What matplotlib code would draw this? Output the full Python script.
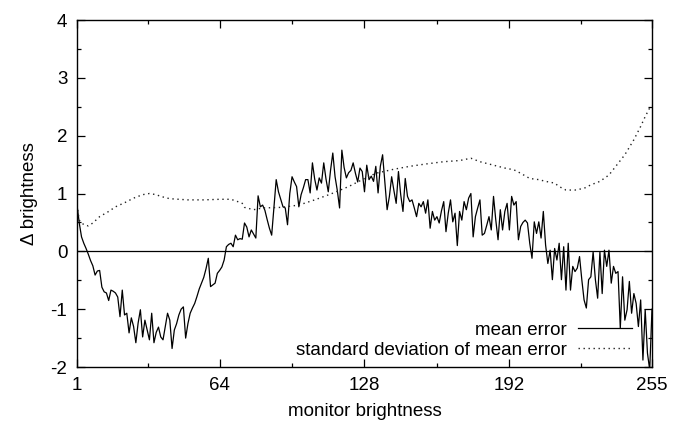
import numpy as np
import matplotlib.pyplot as plt

# monitor brightness levels 1..255
brightness = np.arange(1, 256)

# mean error per brightness level
mean_error = [
    0.80, 0.49, 0.25, 0.14, 0.05, -0.05, -0.16, -0.25, -0.41, -0.34,
    -0.33, -0.62, -0.70, -0.72, -0.85, -0.67, -0.69, -0.72, -0.79, -1.13,
    -0.67, -1.10, -1.07, -1.41, -1.15, -1.30, -1.58, -1.24, -1.01, -1.48,
    -1.19, -1.36, -1.53, -1.07, -1.58, -1.40, -1.31, -1.48, -1.53, -1.30,
    -1.07, -1.19, -1.68, -1.36, -1.25, -1.10, -1.00, -0.96, -1.50, -1.25,
    -1.07, -0.98, -0.90, -0.78, -0.65, -0.55, -0.45, -0.30, -0.12, -0.61,
    -0.58, -0.55, -0.38, -0.33, -0.27, -0.15, 0.08, 0.12, 0.14, 0.08,
    0.28, 0.20, 0.22, 0.21, 0.49, 0.42, 0.25, 0.37, 0.30, 0.23,
    0.96, 0.77, 0.80, 0.71, 0.55, 0.40, 0.28, 0.75, 1.24, 1.03,
    0.90, 0.77, 0.75, 0.46, 1.00, 1.29, 1.20, 1.12, 0.77, 0.98,
    1.10, 1.24, 1.24, 1.01, 1.53, 1.25, 1.06, 1.27, 1.18, 1.53,
    1.25, 1.03, 1.40, 1.70, 1.29, 1.05, 0.75, 1.75, 1.45, 1.27,
    1.36, 1.40, 1.53, 1.35, 1.20, 1.44, 1.38, 1.03, 1.49, 1.24,
    1.30, 1.21, 1.47, 1.01, 1.47, 1.67, 1.20, 0.72, 0.95, 1.29,
    1.05, 0.83, 1.38, 0.98, 0.69, 1.26, 0.95, 0.86, 0.89, 0.75,
    0.60, 0.83, 0.77, 0.86, 0.66, 0.89, 0.40, 0.69, 0.54, 0.60,
    0.49, 0.70, 0.86, 0.34, 0.66, 0.89, 0.51, 0.66, 0.10, 0.69,
    0.54, 0.86, 0.72, 0.92, 1.00, 0.25, 0.60, 0.75, 0.89, 0.28,
    0.31, 0.45, 0.60, 0.37, 0.95, 0.54, 0.20, 0.72, 0.37, 0.69,
    0.83, 0.37, 0.95, 0.80, 0.86, 0.20, 0.43, 0.50, 0.54, 0.49,
    0.14, -0.12, 0.51, 0.31, 0.51, 0.23, 0.69, 0.11, -0.21, 0.02,
    -0.49, 0.05, -0.15, 0.14, -0.49, 0.08, -0.67, 0.14, -0.67, -0.26,
    -0.35, -0.29, -0.09, -0.49, -0.84, -0.98, -0.49, -0.44, -0.01, -0.49,
    -0.81, -0.01, -0.73, 0.02, -0.26, 0.02, -0.55, -0.26, -0.38, -0.35,
    -1.33, -0.44, -1.19, -1.01, -0.52, -1.07, -0.73, -0.90, -1.30, -0.84,
    -1.88, -1.01, -1.76, -2.05, -1.00,
]

# standard deviation, read at a set of brightness levels
std_x = [1, 2, 4, 6, 8, 11, 15, 18, 22, 26, 30, 33, 36, 38, 42, 50, 57, 64,
         69, 72, 74, 75, 79, 83, 91, 99, 106, 113, 121, 127, 133, 141, 148,
         155, 163, 170, 175, 179, 183, 186, 190, 194, 197, 201, 205, 208, 212,
         214, 217, 221, 225, 228, 232, 236, 239, 243, 247, 250, 252, 254, 255]
std_dev = [0.80, 0.54, 0.46, 0.44, 0.49, 0.60, 0.69, 0.77, 0.84, 0.92,
           0.98, 1.00, 0.98, 0.95, 0.91, 0.89, 0.89, 0.90, 0.90, 0.86,
           0.83, 0.76, 0.72, 0.75, 0.76, 0.80, 0.89, 0.99, 1.12, 1.24,
           1.35, 1.42, 1.47, 1.51, 1.55, 1.57, 1.61, 1.55, 1.51, 1.48,
           1.44, 1.41, 1.35, 1.26, 1.24, 1.21, 1.18, 1.12, 1.06, 1.06,
           1.09, 1.15, 1.21, 1.32, 1.47, 1.67, 1.93, 2.16, 2.33, 2.48, 2.52]

x_ticks = [1, 64, 128, 192, 255]

plt.rcParams["font.family"] = ["Liberation Sans", "DejaVu Sans"]
plt.rcParams["font.size"] = 13.5
plt.rcParams["axes.unicode_minus"] = False

fig = plt.figure(figsize=(6.85, 4.24), dpi=100)
ax = fig.add_axes([0.1124, 0.1344, 0.8394, 0.8184])

ax.axhline(0, color="black", lw=0.9, zorder=1)
ax.plot(brightness, mean_error, color="black", lw=0.9, label="mean error")
ax.plot(std_x, std_dev, color="#222222", lw=1.0, linestyle=(0, (1, 2.6)),
        label="standard deviation of mean error")

ax.set_xlim(1, 255)
ax.set_ylim(-2, 4)
ax.set_xticks(x_ticks)
ax.set_xticks([32.5, 96, 160, 223.5], minor=True)
ax.set_yticks(range(-2, 5))
ax.set_yticks(np.arange(-1.5, 4, 1.0), minor=True)
ax.tick_params(which="both", direction="in", top=True, right=True,
               width=0.9, colors="black")
ax.tick_params(which="major", length=6, pad=7)
ax.tick_params(which="minor", length=3)
for s in ax.spines.values():
    s.set_linewidth(1.0)

ax.set_xlabel("monitor brightness", labelpad=7)
ax.set_ylabel("Δ brightness", labelpad=9)

ax.legend(loc="lower right", bbox_to_anchor=(0.985, -0.008), frameon=False,
          markerfirst=False, handlelength=2.9, handletextpad=0.6,
          labelspacing=0.15, borderaxespad=0.2)

fig.savefig("out.png", dpi=100)
